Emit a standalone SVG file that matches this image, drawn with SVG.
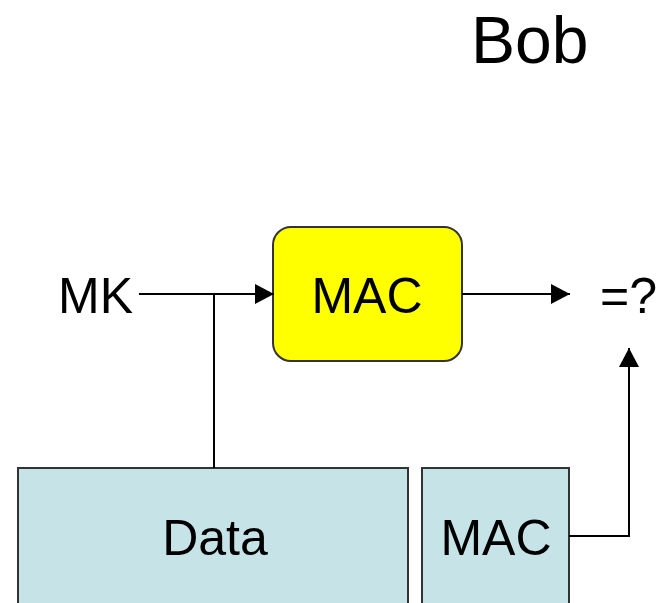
<svg xmlns="http://www.w3.org/2000/svg" width="665" height="603" viewBox="0 0 665 603">
  <style>
    .lbl { font-family: "Liberation Sans", Arial, sans-serif; font-size: 50px; fill: #000; }
    .box { stroke: #333; stroke-width: 2; }
    .wire { fill: none; stroke: #000; stroke-width: 2; }
  </style>
  <defs>
    <marker id="arrow" viewBox="0 0 19 20" refX="19" refY="10" markerWidth="19" markerHeight="20" markerUnits="userSpaceOnUse" orient="auto">
      <path d="M0,0 L19,10 L0,20 Z" fill="#000"/>
    </marker>
  </defs>
  <rect width="665" height="603" fill="#fff"/>

  <g id="title">
    <text class="lbl" x="471" y="63" style="font-size:66px">Bob</text>
  </g>

  <g id="mk">
    <text class="lbl" x="133" y="313" text-anchor="end">MK</text>
  </g>

  <g id="mac-func">
    <rect class="box" x="273" y="227" width="189" height="134" rx="18" fill="#FFFF00"/>
    <text class="lbl" x="367" y="313" text-anchor="middle">MAC</text>
  </g>

  <g id="compare">
    <text class="lbl" x="600" y="313">=?</text>
  </g>

  <g id="data">
    <rect class="box" x="18" y="468" width="390" height="140" fill="#C6E4E8"/>
    <text class="lbl" x="215" y="555" text-anchor="middle">Data</text>
  </g>

  <g id="mac-recv">
    <rect class="box" x="422" y="468" width="147" height="140" fill="#C6E4E8"/>
    <text class="lbl" x="496" y="555" text-anchor="middle">MAC</text>
  </g>

  <g id="connectors">
    <line class="wire" x1="139" y1="294" x2="274" y2="294" marker-end="url(#arrow)"/>
    <line class="wire" x1="214" y1="294" x2="214" y2="468"/>
    <line class="wire" x1="462" y1="294" x2="570" y2="294" marker-end="url(#arrow)"/>
    <polyline class="wire" points="569,536 629,536 629,348" marker-end="url(#arrow)"/>
  </g>
</svg>
